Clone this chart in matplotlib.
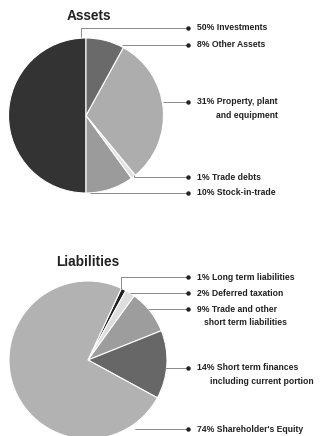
import matplotlib
matplotlib.use("Agg")
import matplotlib.pyplot as plt

W, H = 323, 436

# Data
asset_labels = ["Investments", "Stock-in-trade", "Trade debts",
                "Property, plant and equipment", "Other Assets"]
asset_values = [50, 10, 1, 31, 8]
asset_colors = ["#333333", "#9b9b9b", "#e2e2e2", "#adadad", "#6a6a6a"]

liab_labels = ["Long term liabilities", "Deferred taxation",
               "Trade and other short term liabilities",
               "Short term finances including current portion",
               "Shareholder's Equity"]
liab_values = [1, 2, 9, 14, 74]
liab_colors = ["#222222", "#dedede", "#9d9d9d", "#676767", "#b2b2b2"]

FONT = ["Liberation Sans", "DejaVu Sans"]

fig = plt.figure(figsize=(W / 100, H / 100), dpi=100)
ax = fig.add_axes([0, 0, 1, 1])

def Y(y):
    return H - y

# Assets pie
ax.pie(asset_values, colors=asset_colors, startangle=90, counterclock=True,
       center=(86, Y(115.5)), radius=77.5,
       wedgeprops=dict(edgecolor="white", linewidth=0.8))
# Liabilities pie
ax.pie(liab_values, colors=liab_colors, startangle=65, counterclock=False,
       center=(88, Y(360)), radius=79,
       wedgeprops=dict(edgecolor="white", linewidth=0.8))

ax.set_xlim(0, W)
ax.set_ylim(0, H)
ax.set_aspect("equal")
ax.axis("off")

TC = "#222222"
ax.text(89, Y(16), "Assets", ha="center", va="center", fontsize=9.8,
        fontweight="bold", family=FONT, color=TC)
ax.text(88, Y(261.5), "Liabilities", ha="center", va="center", fontsize=9.8,
        fontweight="bold", family=FONT, color=TC)

LC = "#8a8a8a"
BX = 188
TX = 197
LS = 6.2

def leader(points, ly):
    xs = [p[0] for p in points] + [BX]
    ys = [Y(p[1]) for p in points] + [Y(ly)]
    ax.plot(xs, ys, color=LC, lw=0.7, solid_capstyle="butt", zorder=5)
    ax.plot([BX], [Y(ly)], "o", ms=2.2, color="#222222", zorder=6)

def label(txt, ly, x=TX, ha="left"):
    ax.text(x, Y(ly), txt, ha=ha, va="center", fontsize=LS,
            fontweight="bold", family=FONT, color=TC)

# Asset labels
leader([(81, 37), (81, 28)], 28)
label(f"{asset_values[0]}% Investments", 28)
leader([(122, 45)], 45)
label(f"{asset_values[4]}% Other Assets", 45)
leader([(163, 102)], 102)
label(f"{asset_values[3]}% Property, plant", 102)
label("and equipment", 115, x=278, ha="right")
leader([(134, 175), (134, 177)], 177)
label(f"{asset_values[2]}% Trade debts", 177)
leader([(90, 193)], 193)
label(f"{asset_values[1]}% Stock-in-trade", 193)

# Liability labels
leader([(121, 289), (121, 277)], 277)
label(f"{liab_values[0]}% Long term liabilities", 277)
leader([(130, 293)], 293)
label(f"{liab_values[1]}% Deferred taxation", 293)
leader([(148, 309)], 309)
label(f"{liab_values[2]}% Trade and other", 309)
label("short term liabilities", 322.5, x=204)
leader([(165, 368)], 368)
label(f"{liab_values[3]}% Short term finances", 368)
label("including current portion", 381.5, x=210)
leader([(135, 429)], 429)
label(f"{liab_values[4]}% Shareholder's Equity", 429)

fig.savefig("out.png", dpi=100, facecolor="white")
